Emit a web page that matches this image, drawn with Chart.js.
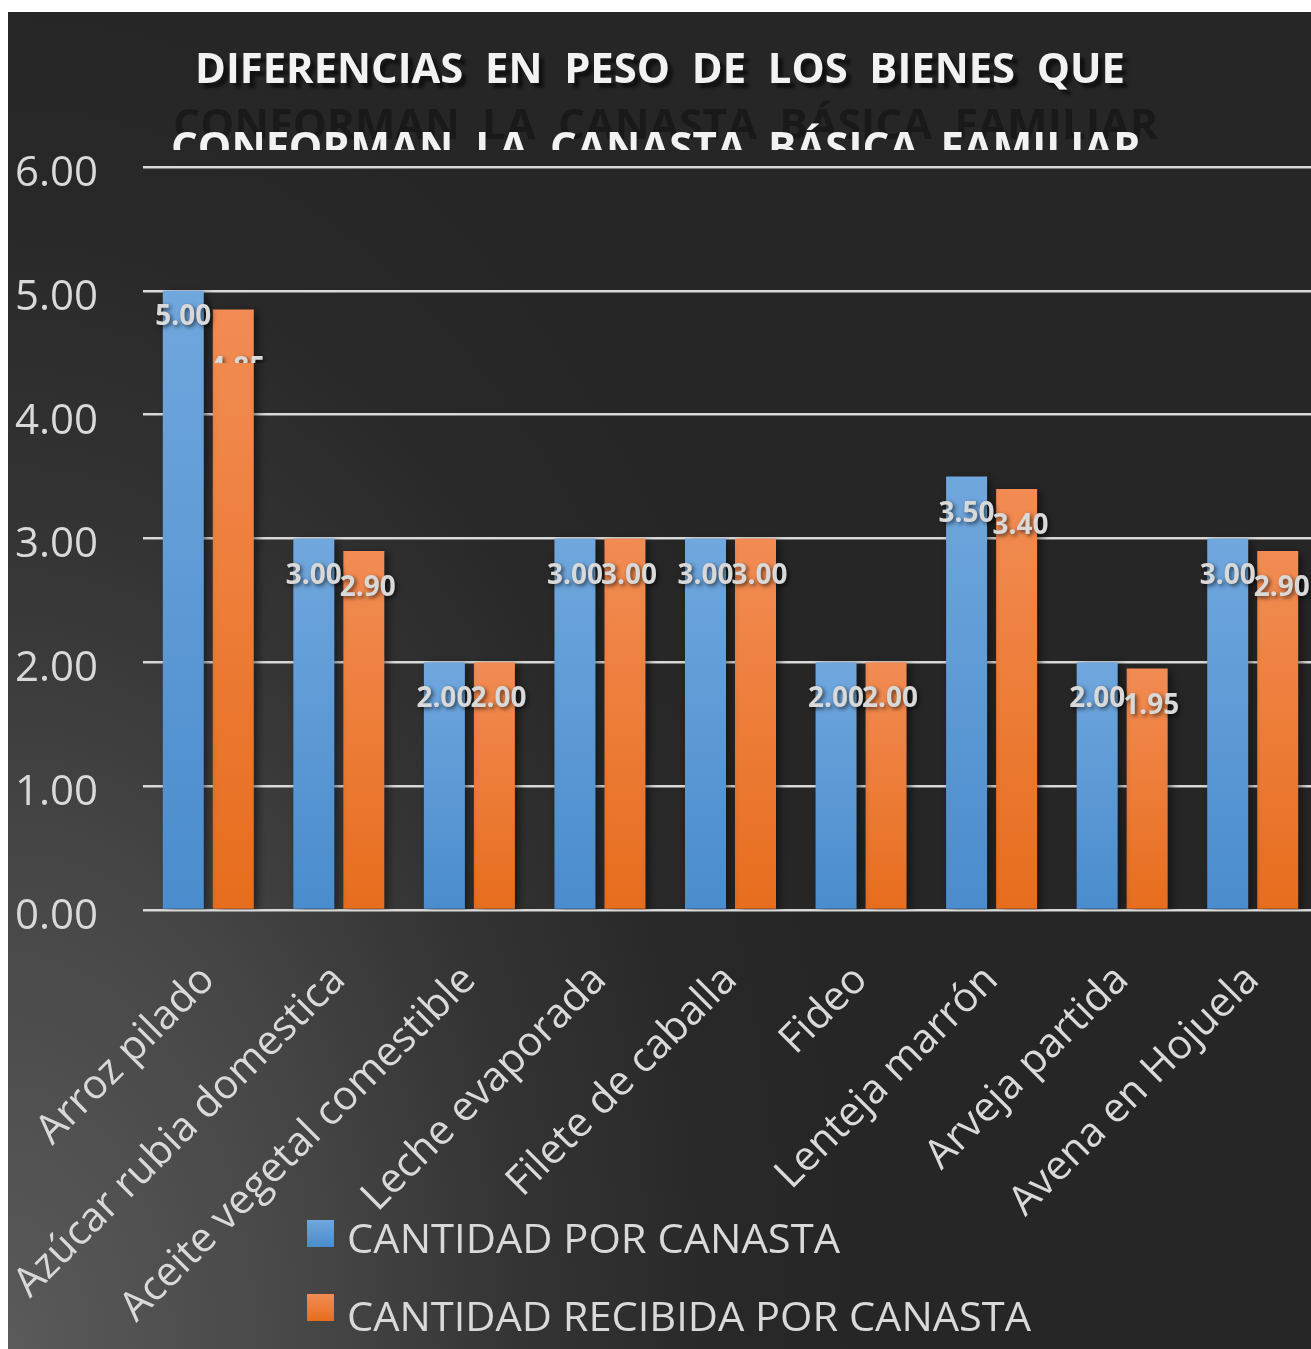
<!DOCTYPE html>
<html>
<head>
<meta charset="utf-8">
<script src="https://cdn.jsdelivr.net/npm/chart.js"></script>
<style>
  html, body { margin: 0; padding: 0; background: #fff; overflow: hidden; width: 1311px; height: 1349px; }
  #wrap { position: absolute; left: 8px; top: 12px; }
</style>
</head>
<body>
<div id="wrap"><canvas id="c" width="1320" height="1337"></canvas></div>
<script>
// data
const categories = ['Arroz pilado', 'Azúcar rubia domestica', 'Aceite vegetal comestible', 'Leche evaporada',
  'Filete de caballa', 'Fideo', 'Lenteja marrón', 'Arveja partida', 'Avena en Hojuela'];
const cantidadPorCanasta = [5.00, 3.00, 2.00, 3.00, 3.00, 2.00, 3.50, 2.00, 3.00];
const cantidadRecibida = [4.85, 2.90, 2.00, 3.00, 3.00, 2.00, 3.40, 1.95, 2.90];
const yTicks = [0, 1, 2, 3, 4, 5, 6];
const seriesNames = ['CANTIDAD POR CANASTA', 'CANTIDAD RECIBIDA POR CANASTA'];
const titleLines = ['DIFERENCIAS  EN  PESO  DE  LOS  BIENES  QUE', 'CONFORMAN  LA  CANASTA  BÁSICA  FAMILIAR'];

const BLUE = ['#70a7dd', '#4a8ccd'];
const ORANGE = ['#f28c54', '#e76d1d'];
const TXT = '#d9d9d9';

function barFill(cols) {
  return function (ctx) {
    const ch = ctx.chart;
    if (!ch.chartArea || ctx.raw === undefined) return cols[1];
    const y = ch.scales.y;
    const g = ch.ctx.createLinearGradient(0, y.getPixelForValue(ctx.raw), 0, y.getPixelForValue(0));
    g.addColorStop(0, cols[0]);
    g.addColorStop(1, cols[1]);
    return g;
  };
}

// text drawn squeezed to a given width
function fitText(c, txt, x, y, w) {
  const m = c.measureText(txt).width;
  c.save();
  c.translate(x, y);
  c.scale(w / m, 1);
  c.fillText(txt, 0, 0);
  c.restore();
}

const background = {
  id: 'background',
  beforeDraw(chart) {
    const c = chart.ctx, W = chart.width, H = chart.height;
    c.save();
    c.fillStyle = '#262626';
    c.fillRect(0, 0, W, H);
    c.translate(0, H);
    c.scale(1, 1.6);
    const g = c.createRadialGradient(0, 0, 0, 0, 0, 850);
    g.addColorStop(0, '#5a5a5a');
    g.addColorStop(0.35, '#474747');
    g.addColorStop(0.6, '#343434');
    g.addColorStop(0.85, '#282828');
    g.addColorStop(1, '#262626');
    c.fillStyle = g;
    c.fillRect(0, -H / 1.6, W, H / 1.6);
    c.restore();
  }
};

const barShadow = {
  id: 'barShadow',
  beforeDatasetsDraw(chart) {
    const c = chart.ctx;
    c.save();
    c.shadowColor = 'rgba(0,0,0,0.45)';
    c.shadowBlur = 8;
    c.shadowOffsetX = 4;
    c.shadowOffsetY = 2;
  },
  afterDatasetsDraw(chart) {
    chart.ctx.restore();
  }
};

const valueLabels = {
  id: 'valueLabels',
  afterDatasetsDraw(chart) {
    const c = chart.ctx;
    c.save();
    c.font = 'bold 28px "Open Sans"';
    c.textAlign = 'center';
    c.textBaseline = 'alphabetic';
    c.fillStyle = TXT;
    c.shadowColor = 'rgba(0,0,0,0.6)';
    c.shadowBlur = 4;
    c.shadowOffsetX = 2;
    c.shadowOffsetY = 2;
    chart.data.datasets.forEach((ds, di) => {
      chart.getDatasetMeta(di).data.forEach((bar, i) => {
        const txt = ds.data[i].toFixed(2);
        let dy = 45;
        if (i === 0) dy = di === 0 ? 34 : 68;
        const x = bar.x + (di === 1 ? 4 : 0);
        if (i === 0 && di === 1) {
          c.save();
          c.beginPath();
          c.rect(x - 40, 0, 80, 351);
          c.clip();
          c.fillText(txt, x, bar.y + dy);
          c.restore();
        } else {
          c.fillText(txt, x, bar.y + dy);
        }
      });
    });
    c.restore();
  }
};

const titleAndLegend = {
  id: 'titleAndLegend',
  afterDraw(chart) {
    const c = chart.ctx;
    c.save();
    c.font = 'bold 42px "Open Sans"';
    c.textAlign = 'left';
    c.textBaseline = 'alphabetic';
    // ghost of the second line
    c.fillStyle = 'rgba(0,0,0,0.32)';
    fitText(c, titleLines[1], 165, 127, 985);
    // first line
    c.save();
    c.shadowColor = 'rgba(0,0,0,0.55)';
    c.shadowBlur = 3;
    c.shadowOffsetX = 5;
    c.shadowOffsetY = 5;
    c.fillStyle = '#f2f2f2';
    fitText(c, titleLines[0], 187, 71, 930);
    c.restore();
    // second line, cut at the top of the plot
    c.save();
    c.beginPath();
    c.rect(0, 0, chart.width, 138);
    c.clip();
    c.fillStyle = '#f2f2f2';
    fitText(c, titleLines[1], 163, 150, 970);
    c.restore();

    // legend
    const items = [
      { cols: BLUE, box: 1208, base: 1241, w: 493 },
      { cols: ORANGE, box: 1282, base: 1319, w: 684 }
    ];
    c.font = '40px "Open Sans"';
    items.forEach((it, k) => {
      const g = c.createLinearGradient(0, it.box, 0, it.box + 27);
      g.addColorStop(0, it.cols[0]);
      g.addColorStop(1, it.cols[1]);
      c.fillStyle = g;
      c.fillRect(299, it.box, 27, 27);
      c.fillStyle = TXT;
      fitText(c, seriesNames[k], 339, it.base, it.w);
    });
    c.restore();
  }
};

new Chart(document.getElementById('c'), {
  type: 'bar',
  data: {
    labels: categories,
    datasets: [
      { label: seriesNames[0], data: cantidadPorCanasta, backgroundColor: barFill(BLUE) },
      { label: seriesNames[1], data: cantidadRecibida, backgroundColor: barFill(ORANGE) }
    ]
  },
  options: {
    responsive: false,
    devicePixelRatio: 1,
    animation: false,
    categoryPercentage: 0.766,
    barPercentage: 0.82,
    layout: { padding: { top: 155, right: 10, left: 0, bottom: 0 } },
    plugins: {
      legend: { display: false },
      title: { display: false },
      tooltip: { enabled: false }
    },
    scales: {
      x: {
        grid: { display: false },
        border: { display: false },
        ticks: {
          color: TXT,
          font: { family: 'Open Sans', size: 41 },
          minRotation: 45,
          maxRotation: 45,
          autoSkip: false,
          padding: 38
        },
        afterFit(scale) {
          scale.height = 439;
          scale.paddingLeft = 0;
          scale.paddingRight = 0;
        }
      },
      y: {
        min: 0,
        max: 6,
        afterBuildTicks(scale) { scale.ticks = yTicks.map(v => ({ value: v })); },
        grid: { color: TXT, lineWidth: 2.5, drawTicks: false },
        border: { display: false },
        ticks: {
          color: TXT,
          font: { family: 'Open Sans', size: 42 },
          padding: 45,
          labelOffset: 7,
          callback: v => v.toFixed(2)
        },
        afterFit(scale) { scale.width = 135; }
      }
    }
  },
  plugins: [background, barShadow, valueLabels, titleAndLegend]
});
</script>
</body>
</html>
